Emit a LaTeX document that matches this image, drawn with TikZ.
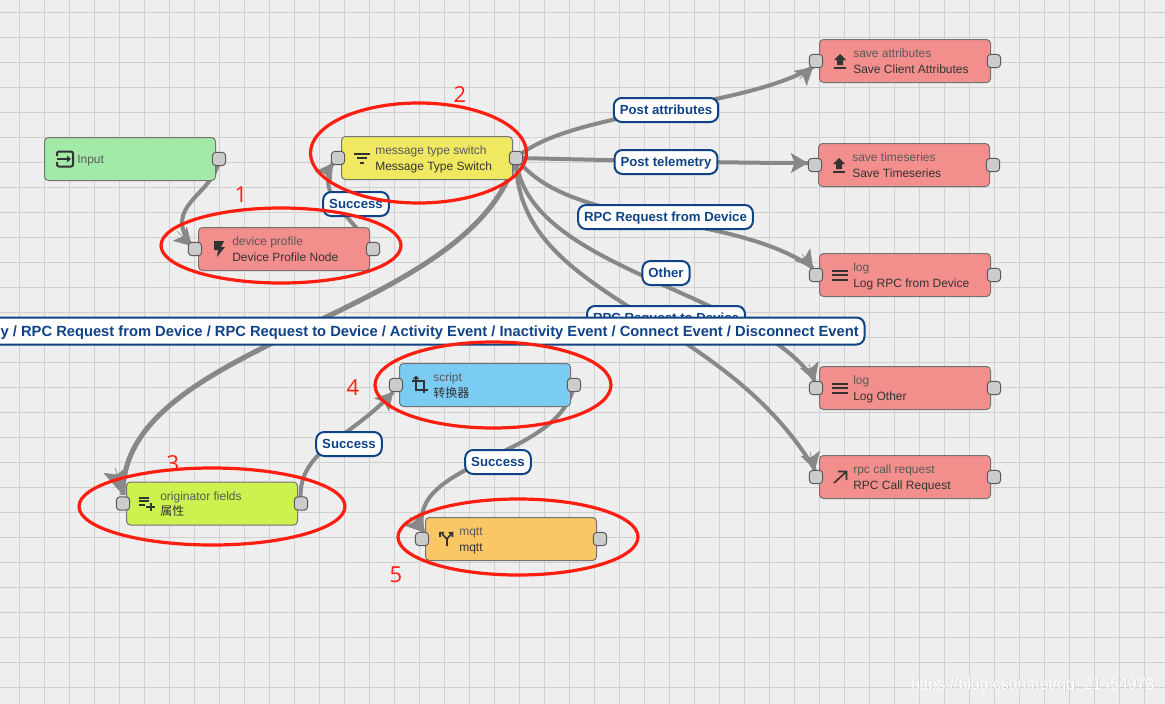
\documentclass[tikz,border=0pt]{standalone}
\usepackage{fontspec}
\setmainfont{Liberation Sans}
\newfontfamily\cjk{Noto Sans CJK SC}
\newfontfamily\marknum{Open Sans}
\usetikzlibrary{arrows.meta}
\pgfdeclarelayer{edges}
\pgfdeclarelayer{labels}
\pgfdeclarelayer{marks}
\pgfsetlayers{edges,main,labels,marks}
\definecolor{bgc}{HTML}{EEEEEE}
\definecolor{gridc}{HTML}{D0D0D0}
\definecolor{rednode}{HTML}{F28F8C}
\definecolor{greennode}{HTML}{A3EAA8}
\definecolor{yellownode}{HTML}{F1E861}
\definecolor{limenode}{HTML}{CDF14E}
\definecolor{bluenode}{HTML}{7ACCF2}
\definecolor{orangenode}{HTML}{FBC766}
\definecolor{edgec}{HTML}{888888}
\definecolor{labelc}{HTML}{0F4386}
\definecolor{iconc}{HTML}{333333}
\definecolor{redmark}{HTML}{FF1E10}
\tikzset{
  gridline/.style={draw=gridc,line width=0.75pt},
  rulebox/.style={draw=black!55,line width=0.75pt,rounded corners=3pt,minimum width=128.25pt,minimum height=32.25pt,inner sep=0pt},
  portbox/.style={draw=black!65,fill=black!20,line width=0.75pt,rounded corners=2.4pt,minimum width=9.8pt,minimum height=9.8pt,inner sep=0pt},
  toptext/.style={anchor=base west,inner sep=0pt,text=black!65,font=\fontsize{9}{10}\selectfont},
  bottext/.style={anchor=base west,inner sep=0pt,text=black!80,font=\fontsize{9}{10}\selectfont},
  flowline/.style={draw=edgec,line width=3pt},
  flowhead/.style={draw=edgec,line width=0.5pt,-{Stealth[length=13pt,width=15pt,inset=3pt]}},
  thickhead/.style={draw=edgec,line width=0.5pt,-{Stealth[length=20pt,width=19pt,inset=4pt]}},
  linklabel/.style={draw=labelc,fill=white,line width=1.5pt,rounded corners=6pt,text=labelc,inner xsep=4.5pt,inner ysep=0pt,text height=7.1pt,text depth=0pt,minimum height=18pt,font=\fontsize{9.9}{12}\selectfont\bfseries},
  longbox/.style={draw=labelc,fill=white,line width=1.5pt,rounded corners=6pt},
  longtext/.style={inner sep=0pt,text=labelc,font=\fontsize{11.04}{13}\selectfont\bfseries},
  oval/.style={draw=redmark,line width=2.4pt},
  marknumber/.style={text=redmark,inner sep=0pt,font=\marknum\fontsize{16.5}{18}\selectfont},
  iconline/.style={draw=iconc,line width=1.5pt},
  iconfill/.style={fill=iconc,draw=none}
}
\newcommand{\rulenode}[7]{%
  \begin{scope}[shift={(#2,#3)}]
    \node[rulebox,fill=#4] (#1) at (85.5,0) {};
    \node[portbox] (#1-l) at (-3.5,0) {};
    \node[portbox] (#1-r) at (174.5,0) {};
    \begin{scope}[shift={(20.5,0)}]#5\end{scope}
    \node[toptext] (#1-a) at (33.5,-3.5) {#6};
    \node[bottext] (#1-b) at (33.5,12) {#7};
  \end{scope}}
% connector: from, control 1, control 2, target port, tip offset, head base offset, head style, line options
\newcommand{\flowedge}[8]{%
  \draw[flowline,#8] (#1.center) .. controls #2 and #3 .. ([shift={#5}]#4.center);
  \draw[#7] ([shift={#6}]#4.center) -- ([shift={#5}]#4.center);}
\newcommand{\icinput}{\draw[iconline,rounded corners=1.5pt] (-8,-3)--(-8,-7.5)--(8,-7.5)--(8,7.5)--(-8,7.5)--(-8,3);
  \draw[iconline] (-8,0)--(3,0); \fill[iconfill] (6,0)--(2,-3.5)--(2,3.5)--cycle;}
\newcommand{\icbolt}{\fill[iconfill] (-5,-8)--(5,-8)--(2,-2)--(6,-2)--(-2,8)--(-1,1)--(-5,1)--cycle;}
\newcommand{\icfilter}{\draw[iconline] (-8,-4.5)--(8,-4.5) (-5,0)--(5,0) (-2,4.5)--(2,4.5);}
\newcommand{\icupload}{\fill[iconfill] (0,-7)--(6,-1)--(3,-1)--(3,4)--(-3,4)--(-3,-1)--(-6,-1)--cycle;
  \draw[iconline] (-6,7)--(6,7);}
\newcommand{\icmenu}{\draw[iconline] (-8,-4.5)--(8,-4.5) (-8,0)--(8,0) (-8,4.5)--(8,4.5);}
\newcommand{\icnorth}{\draw[iconline,line width=1.2pt] (-6,6)--(6.5,-5.5) (-2,-5.5)--(6.5,-5.5)--(6.5,3);}
\newcommand{\icplaylist}{\draw[iconline] (-8,-6)--(2,-6) (-8,-2.5)--(2,-2.5) (-8,1)--(-2,1) (-1,3)--(8,3) (3.5,-1)--(3.5,7.5);}
\newcommand{\iccrop}{\draw[iconline] (-4,-8)--(-4,5)--(8,5) (-8,-4)--(4,-4)--(4,8);
  \draw[iconline,line width=1pt] (-6.5,-6)--(-4,-8.5)--(-1.5,-6);}
\newcommand{\icsplit}{\draw[iconline,line width=1.2pt] (1,7)--(1,0)--(6,-6) (1,0)--(-4,-5) (2.5,-6.3)--(6.5,-6.3)--(6.5,-2) (-6,-2)--(-6,-6.3)--(-2,-6.3);}
\begin{document}
\begin{tikzpicture}[x=0.75pt,y=-0.75pt]
\useasboundingbox (0,0) rectangle (1165,704);
% nodes
\node[rulebox,fill=greennode] (input) at (130,159) {};
\node[portbox] (input-r) at (219,159) {};
\begin{scope}[shift={(65,159)}]\icinput\end{scope}
\node[toptext] (input-a) at (77,163) {Input};
\rulenode{profile}{198.5}{249}{rednode}{\icbolt}{device profile}{Device Profile Node}
\rulenode{switch}{341.5}{158}{yellownode}{\icfilter}{message type switch}{Message Type Switch}
\rulenode{attrs}{819.5}{61}{rednode}{\icupload}{save attributes}{Save Client Attributes}
\rulenode{series}{818.5}{165}{rednode}{\icupload}{save timeseries}{Save Timeseries}
\rulenode{logrpc}{819.5}{275}{rednode}{\icmenu}{log}{Log RPC from Device}
\rulenode{logother}{819.5}{388}{rednode}{\icmenu}{log}{Log Other}
\rulenode{rpccall}{819.5}{477}{rednode}{\icnorth}{rpc call request}{RPC Call Request}
\rulenode{origin}{126.5}{503.5}{limenode}{\icplaylist}{originator fields}{{\cjk 属性}}
\rulenode{script}{399.5}{385}{bluenode}{\iccrop}{script}{{\cjk 转换器}}
\rulenode{mqtt}{425.5}{539}{orangenode}{\icsplit}{mqtt}{mqtt}
% background and connectors
\begin{pgfonlayer}{edges}
  \fill[bgc] (0,0) rectangle (1165,704);
  \foreach \k in {0,...,45}{\pgfmathsetmacro{\gx}{19.5+25*\k}\draw[gridline] (\gx,0)--(\gx,704);}
  \foreach \k in {0,...,27}{\pgfmathsetmacro{\gy}{12.7+25*\k}\draw[gridline] (0,\gy)--(1165,\gy);}
  \flowedge{input-r}{(215,195)}{(160,205)}{profile-l}{(-3,-3)}{(-18,-18)}{flowhead}{}
  \flowedge{profile-r}{(350,215)}{(315,195)}{switch-l}{(-5,5)}{(-14,18)}{flowhead}{}
  \flowedge{switch-r}{(570,110)}{(740,110)}{attrs-l}{(-3,6)}{(-16.5,18)}{flowhead}{}
  \flowedge{switch-r}{(610,160)}{(720,163)}{series-l}{(-7,-2)}{(-23.5,-2)}{flowhead}{}
  \flowedge{switch-r}{(570,230)}{(730,210)}{logrpc-l}{(-3,-7)}{(-14,-21)}{flowhead}{}
  \flowedge{switch-r}{(525,270)}{(755,290)}{logother-l}{(-1,-7)}{(-7,-24)}{flowhead}{}
  \flowedge{switch-r}{(515,300)}{(720,310)}{rpccall-l}{(-1,-7)}{(-6,-25)}{flowhead}{}
  \flowedge{switch-r}{(470,320)}{(120,340)}{origin-l}{(0,-8.5)}{(-8,-36)}{thickhead}{line width=3.8pt}
  \flowedge{origin-r}{(295,450)}{(350,440)}{script-l}{(-3,7)}{(-14.5,20)}{flowhead}{}
  \flowedge{script-r}{(560,460)}{(405,460)}{mqtt-l}{(1,-7)}{(-12,-22)}{flowhead}{}
\end{pgfonlayer}
% connector labels
\begin{pgfonlayer}{labels}
  \node[linklabel] (l-success1) at (356,204) {Success};
  \node[linklabel] (l-attrs) at (666,110) {Post attributes};
  \node[linklabel] (l-series) at (666,162) {Post telemetry};
  \node[linklabel] (l-rpcfrom) at (665.5,217) {RPC Request from Device};
  \node[linklabel] (l-other) at (666,273) {Other};
  \node[linklabel] (l-rpcto) at (666,318) {RPC Request to Device};
  \node[linklabel] (l-success2) at (349,444) {Success};
  \node[linklabel] (l-success3) at (498,462) {Success};
  \begin{scope}
    \clip (0,0) rectangle (1165,704);
    \draw[longbox] (-20,317.5) rectangle (864.5,344.5);
  \end{scope}
  \node[longtext,anchor=east] (l-long) at (859,332.5) {y / RPC Request from Device / RPC Request to Device / Activity Event / Inactivity Event / Connect Event / Disconnect Event};
\end{pgfonlayer}
% annotations
\begin{pgfonlayer}{marks}
  \draw[oval] (281,245.5) ellipse [x radius=120,y radius=37.5];
  \draw[oval] (418.5,153) ellipse [x radius=108,y radius=50];
  \draw[oval] (212,506.5) ellipse [x radius=133,y radius=38.5];
  \draw[oval] (493,385) ellipse [x radius=118,y radius=43];
  \draw[oval] (518,537) ellipse [x radius=120,y radius=38];
  \node[marknumber] (n1) at (241,195) {1};
  \node[marknumber] (n2) at (460,95) {2};
  \node[marknumber] (n3) at (173,464) {3};
  \node[marknumber] (n4) at (353,388) {4};
  \node[marknumber] (n5) at (396,575) {5};
  \node[anchor=east,inner sep=0pt,text=black!20,font=\fontsize{11.9}{13}\selectfont] (wm0) at (1155.6,685.6) {https://blog.csdn.net/qq\_21454973};
  \node[anchor=east,inner sep=0pt,text=white,font=\fontsize{11.9}{13}\selectfont] (wm) at (1155,685) {https://blog.csdn.net/qq\_21454973};
\end{pgfonlayer}
\end{tikzpicture}
\end{document}
